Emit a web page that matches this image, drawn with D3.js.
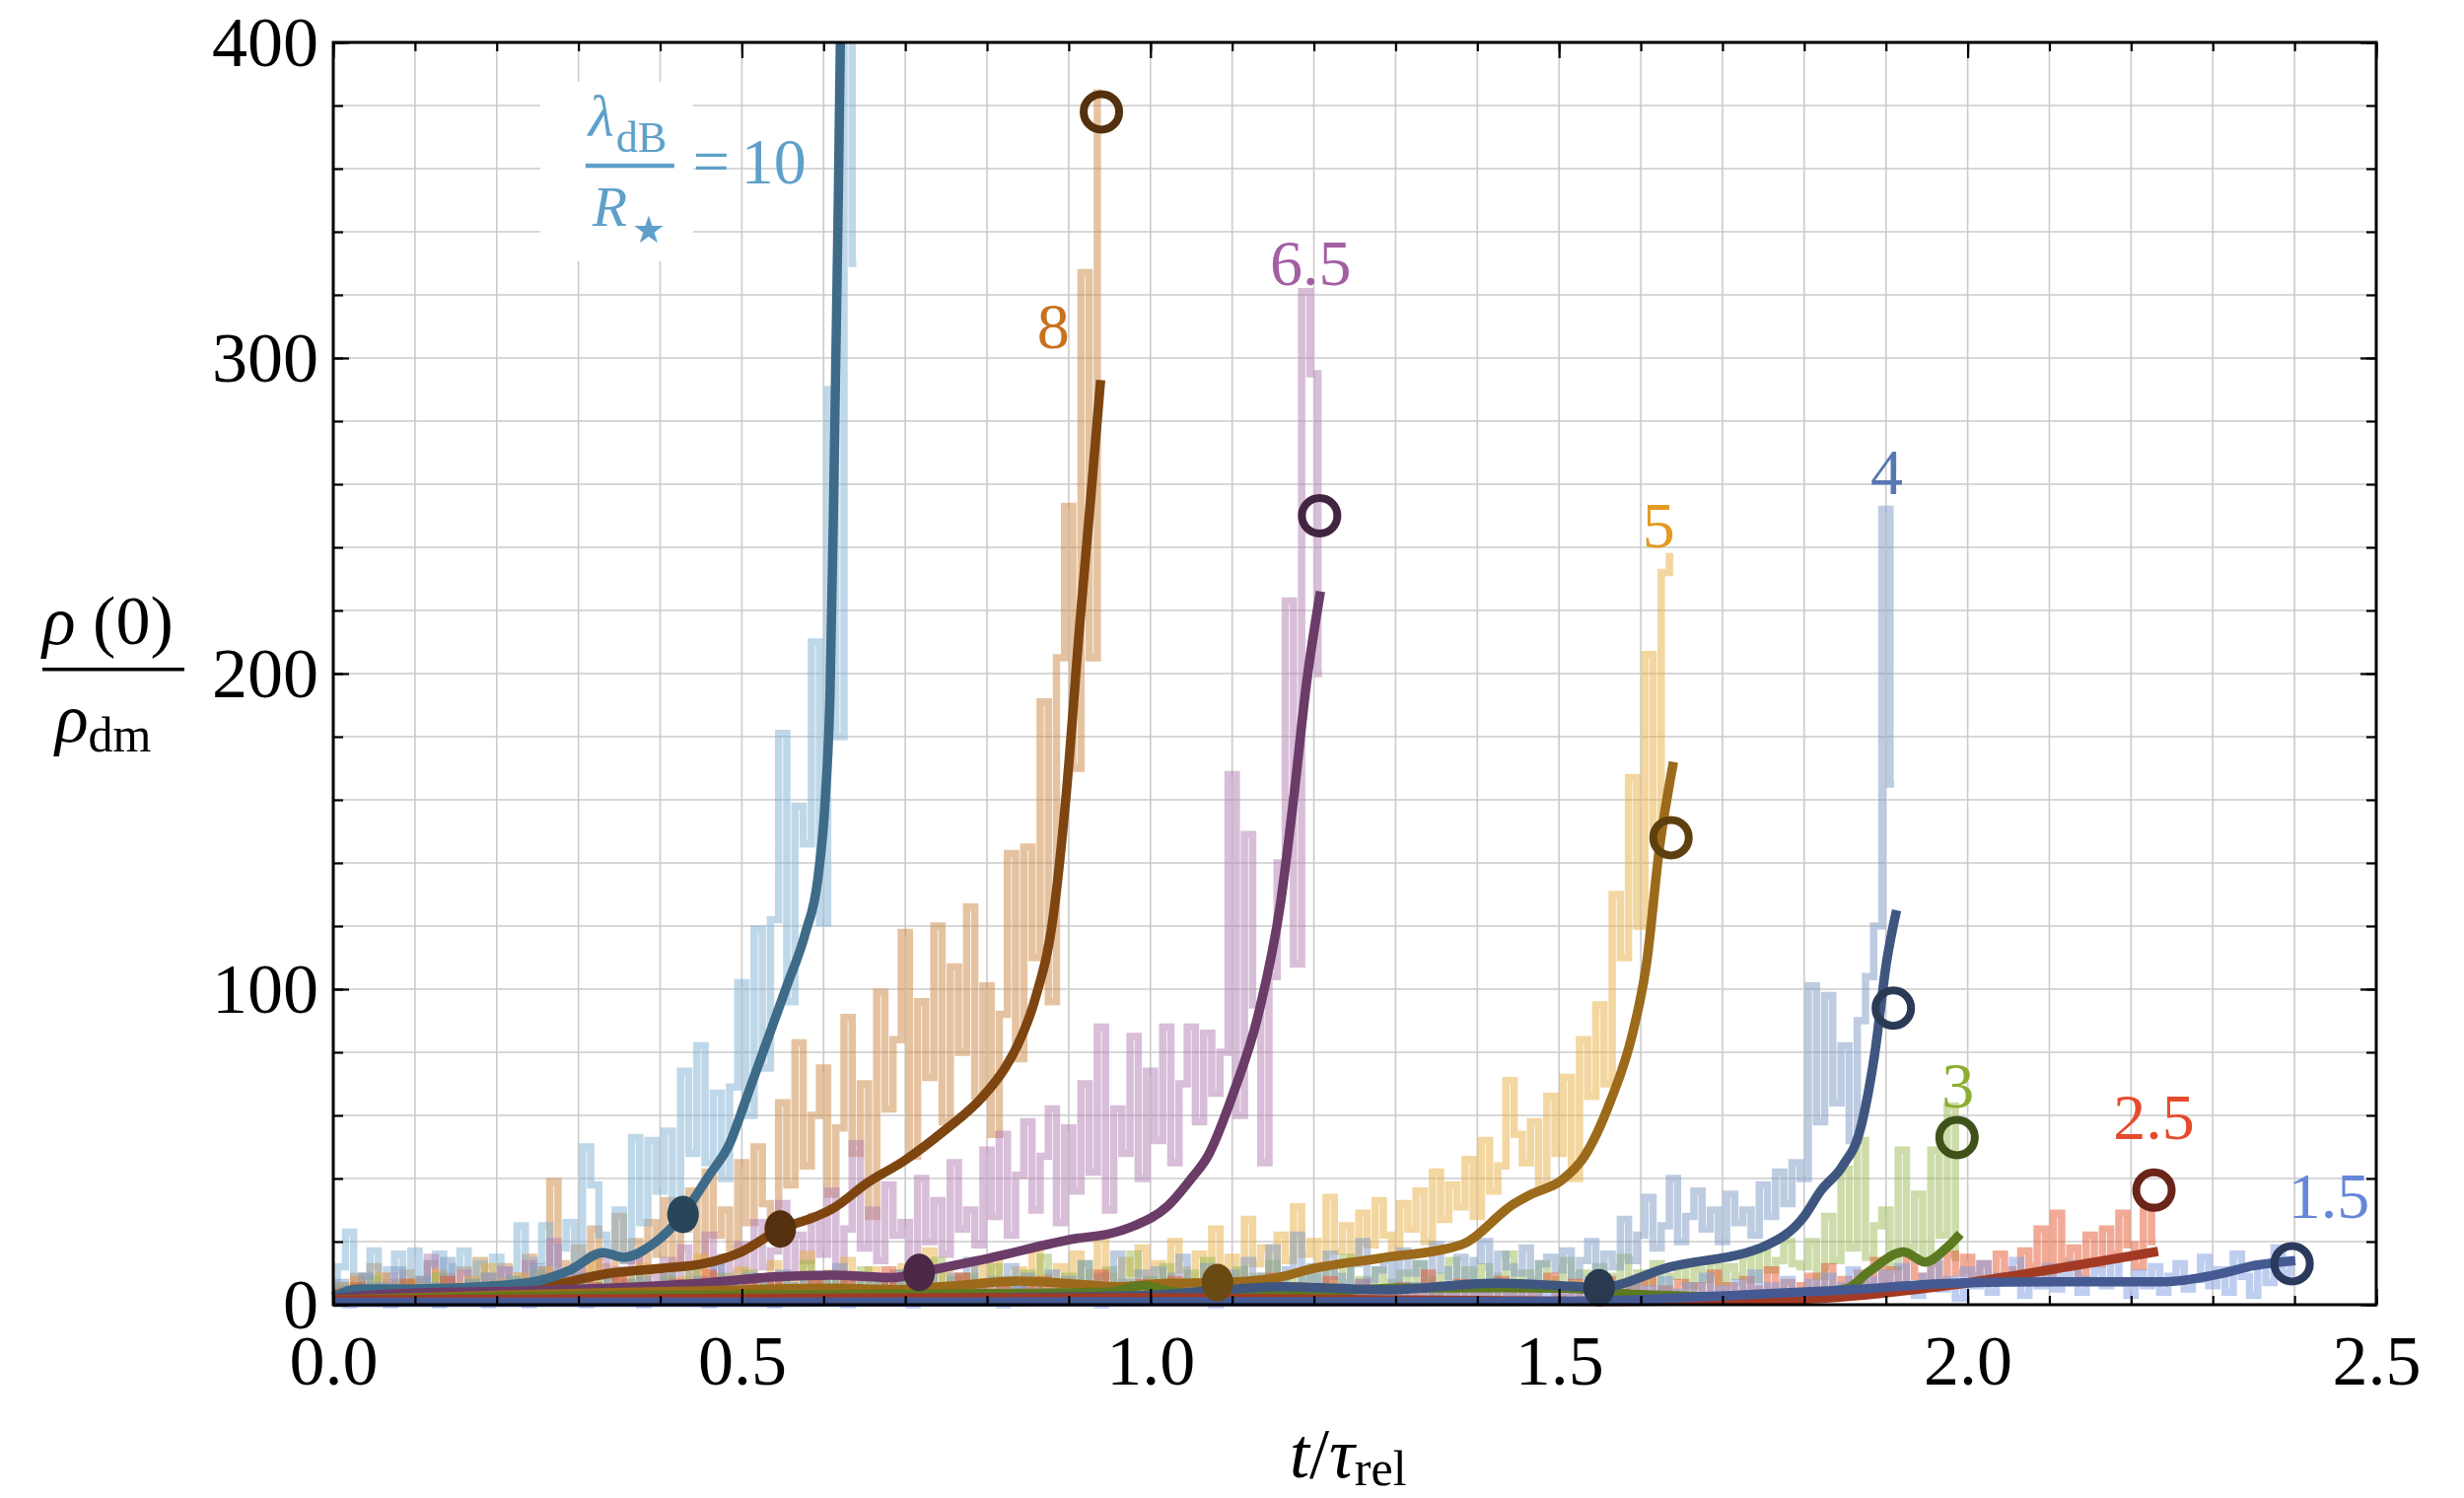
<!DOCTYPE html>
<html lang="en">
<head>
<meta charset="UTF-8">
<title>Central density growth</title>
<style>
  body { margin: 0; background: #fff; }
  svg text { font-family: "Liberation Serif", "Times New Roman", serif; }
</style>
</head>
<body>
<svg id="chart" width="2499" height="1519"></svg>
<script src="https://d3js.org/d3.v7.min.js"></script>
<script>
// ---- data ----
// raw simulation output, one sample every rawStep in t/tau_rel, starting at 0
var rawStep = 0.01;

var raw10 = [4,12,23,6,9,17,5,11,16,4, 17,8,13,16,6,12,17,5,13,9, 15,6,11,25,8,14,25,10,18,26,
  14,50,38,22,18,30,14,53,26,52, 36,55,30,74,48,82,45,67,40,69, 102,60,119,75,122,181,96,158,146,210,
  121,290,180,420,330];

var raw8 = [3,6,4,9,5,12,3,7,5,10, 4,8,13,5,9,6,11,4,14,7, 6,12,5,9,15,7,11,39,13,8,
  18,10,24,12,9,28,14,20,11,26, 16,33,13,24,36,15,42,22,30,18, 45,26,50,32,21,64,38,83,44,60,
  75,35,56,91,48,70,28,99,62,84, 118,47,96,72,120,58,107,80,126,66, 101,54,92,143,78,145,110,191,96,205,
  253,170,327,205,384];

var raw65 = [2,5,3,8,4,6,3,9,5,4, 7,3,15,5,8,4,10,6,3,9, 5,11,4,7,13,6,9,20,5,8,
  12,4,9,15,6,11,7,16,5,10, 8,14,6,18,9,12,22,7,15,10, 19,8,26,12,17,32,10,22,14,28,
  16,36,12,24,51,18,30,14,38,22, 26,12,40,20,33,16,45,24,30,19, 49,28,54,22,41,58,30,47,62,26,
  56,36,70,42,88,30,62,48,85,40, 74,52,88,45,70,88,58,86,67,80, 168,60,149,95,45,104,140,223,108,321,
  295,200];

var raw5 = [3,6,2,8,4,5,9,3,6,4, 7,3,5,10,4,6,3,8,5,12, 4,7,3,9,6,5,11,4,7,3,
  8,5,14,4,6,9,3,7,12,5, 6,10,4,8,5,15,6,9,4,7, 11,5,8,4,13,6,9,5,16,7,
  5,10,6,14,4,8,11,5,9,6, 12,5,8,17,6,10,4,9,7,13, 6,15,8,5,11,7,18,9,6,12,
  8,16,6,10,21,9,7,14,10,18, 9,13,7,20,11,8,16,10,24,12, 15,9,27,13,18,10,22,14,31,16,
  20,12,34,17,25,15,29,19,33,22, 18,32,24,36,20,42,27,38,31,46, 28,52,36,44,71,54,45,58,38,66,
  48,72,40,84,66,95,70,130,110,167, 120,206,150,232,237];

var raw4 = [3,7,2,5,9,3,6,4,11,5, 4,8,3,6,14,5,3,7,4,9, 5,3,8,4,6,12,3,7,5,4,
  9,4,6,3,10,5,7,3,8,4, 6,11,4,7,3,8,5,13,4,6, 3,9,5,7,4,10,6,3,8,5,
  7,4,12,5,8,3,9,6,4,10, 5,8,3,11,6,4,9,5,14,6, 4,8,6,12,5,9,3,7,10,5,
  8,4,13,6,9,5,16,7,4,10, 6,11,5,9,15,7,4,12,8,6, 10,5,14,7,9,18,6,11,22,8,
  12,6,16,9,7,13,20,8,11,14, 7,17,10,13,8,19,11,6,15,9, 14,20,8,16,12,10,18,7,13,15,
  11,17,9,14,20,8,16,12,27,14, 22,34,18,25,40,20,28,36,24,30, 20,35,26,30,22,38,28,42,32,45,
  40,101,58,98,64,82,52,90,104,120, 252,165];

var raw3 = [2,5,3,6,4,8,3,5,2,7, 4,3,6,9,4,5,3,7,5,4, 6,3,8,4,5,10,4,6,3,5,
  7,4,3,9,5,6,4,11,5,3, 6,8,4,5,12,3,7,5,9,4, 5,10,4,7,3,8,6,4,13,5,
  7,4,9,5,3,11,6,8,4,6, 10,5,7,4,14,6,8,5,9,4, 7,12,5,8,4,10,6,15,7,5,
  9,6,13,5,8,11,4,7,16,6, 8,5,12,7,4,10,6,14,5,8, 6,11,4,9,7,13,5,8,10,6,
  9,5,12,7,15,6,8,4,11,7, 6,10,5,13,8,4,9,14,6,11, 7,12,5,9,16,6,10,8,13,5,
  8,14,6,10,5,12,7,9,15,6, 10,7,13,5,9,12,6,11,8,14, 7,12,9,15,8,18,11,14,20,13,
  12,20,9,28,14,43,18,52,15,25, 30,12,49,18,35,14,49,22,63,15];

var raw25 = [2,4,1,6,3,2,5,1,3,7, 2,4,1,3,8,2,5,3,1,4, 3,6,2,4,1,5,3,9,2,4,
  1,3,6,2,4,8,1,3,5,2, 4,1,7,3,2,5,10,2,4,1, 3,6,2,4,9,1,3,5,2,7,
  2,4,1,8,3,5,2,4,11,3, 1,5,3,2,6,4,1,9,3,5, 2,4,7,1,3,5,2,8,4,3,
  6,2,4,1,10,3,5,2,4,7, 3,1,5,8,2,4,3,6,1,4, 7,2,5,3,1,9,4,2,6,3,
  4,1,8,3,5,2,7,4,1,5, 3,6,2,4,10,1,5,3,7,2, 5,3,1,8,4,2,6,3,5,9,
  2,4,7,1,5,3,8,2,4,6, 3,9,2,5,4,7,1,6,3,10, 4,6,2,8,5,3,11,4,7,3,
  6,9,4,12,5,8,3,10,6,14, 7,11,5,15,9,6,13,8,16,10, 15,9,13,7,16,11,8,17,12,24,
  10,29,14,18,9,22,13,24,16,29, 19,12,31,20];

var raw15 = [1,3,0,2,4,1,2,0,3,1, 2,4,1,0,3,2,5,1,2,0, 3,1,2,4,0,2,1,3,5,1,
  2,0,3,1,4,2,1,3,0,2, 4,1,2,5,1,3,0,2,4,1, 2,3,1,4,0,2,5,1,3,2,
  1,4,2,0,3,1,5,2,1,3, 2,0,4,1,3,2,6,1,2,4, 1,3,0,2,5,1,3,2,4,1,
  3,1,2,6,0,3,1,4,2,1, 4,2,1,3,5,1,2,4,0,3, 2,5,1,3,2,6,1,4,2,3,
  1,4,2,5,1,3,7,2,4,1, 3,2,6,1,4,2,5,3,1,6, 2,4,1,7,3,2,5,1,4,3,
  6,2,4,1,8,3,2,5,3,7, 2,5,3,8,1,4,6,2,9,3, 5,2,7,4,10,3,6,2,8,4,
  3,7,2,9,4,6,11,3,8,5, 10,4,12,6,3,9,14,5,8,2, 11,6,13,4,9,7,14,3,10,6,
  12,5,9,13,4,8,11,6,14,7, 3,10,6,12,4,9,13,5,8,15, 6,11,4,16,9,3,13,7,18,10,
  14];

// smoothed curves, [t/tau_rel, rho(0)/rho_dm]
var smooth10 = [[0,2.5],[0.03,5],[0.1,5],[0.2,6],[0.25,7.5],[0.29,11],[0.33,16.5],[0.355,15],
  [0.39,19],[0.428,28.6],[0.46,41],[0.485,51],[0.505,65],[0.53,83],[0.555,101],[0.578,118],
  [0.593,135],[0.602,160],[0.608,195],[0.612,250],[0.615,300],[0.618,350],[0.621,410]];
var smooth8 = [[0,2],[0.1,3],[0.2,4],[0.268,6.2],[0.337,9.9],[0.4,11.5],[0.453,13],[0.499,16.7],
  [0.547,24],[0.591,28],[0.612,30.6],[0.653,38.5],[0.698,45.5],[0.747,55],[0.795,66],[0.822,75],
  [0.837,82],[0.859,97],[0.881,123],[0.897,162],[0.913,214],[0.929,262],[0.939,293]];
var smooth65 = [[0,2],[0.086,3.6],[0.24,4.4],[0.45,6.8],[0.545,8.9],[0.61,9.4],[0.686,8.6],
  [0.717,10.2],[0.8,14.6],[0.91,21],[0.95,22.5],[0.98,25],[1.02,31],[1.05,40],[1.07,47],
  [1.1,66],[1.132,92],[1.159,127],[1.175,160],[1.191,197],[1.208,226]];
var smooth5 = [[0,1.5],[0.2,3],[0.45,4.4],[0.61,5.2],[0.69,4.8],[0.76,6],[0.84,7.5],[0.92,6.3],
  [0.96,5.7],[1.02,6.8],[1.082,7],[1.15,8.3],[1.2,11.5],[1.28,14.7],[1.38,19],[1.445,32],
  [1.466,35],[1.504,39.6],[1.531,47],[1.563,64.6],[1.59,86],[1.607,108],[1.623,145],[1.64,172]];
var smooth4 = [[0,1],[0.5,1.5],[0.9,2.5],[1.0,3],[1.08,4.5],[1.16,5.7],[1.29,4.7],[1.42,6.8],
  [1.525,5.7],[1.549,5.4],[1.635,11.9],[1.751,18.5],[1.8,28],[1.82,36],[1.847,44],[1.868,55],
  [1.886,79],[1.901,109],[1.913,125]];
var smooth3 = [[0,1.5],[0.2,2.5],[0.5,3],[0.8,3.5],[0.95,4],[0.99,6],[1.03,4],[1.1,3.5],[1.2,4],
  [1.3,5.2],[1.42,5.4],[1.51,5.2],[1.59,3.3],[1.77,2.3],[1.853,5.2],[1.879,10.4],[1.922,16.7],
  [1.948,13.5],[1.973,17.7],[1.991,22.4]];
var smooth25 = [[0,1.5],[0.5,2],[1.0,2.2],[1.55,1],[1.77,1.5],[1.87,3],[1.98,6.2],[2.11,11.5],[2.233,16.9]];
var smooth15 = [[0,0.8],[0.5,0.8],[1.0,0.9],[1.4,1],[1.55,1.2],[1.68,2.6],[1.853,4.7],[1.982,6.8],
  [2.112,7.3],[2.241,7.3],[2.302,9.4],[2.353,12.5],[2.401,14]];

// markers
var dotPoints = [[0.428,28.6],[0.547,24],[0.717,10.2],[1.082,7],[1.549,5.4]];
var ringPoints = [[0.94,378],[1.207,250],[1.637,148],[1.909,94],[1.987,53],[2.228,36.3],[2.397,13]];

// curve labels (centre x, baseline y, in data units)
var labelText = ["8","6.5","5","4","3","2.5","1.5"];
var labelX = [0.881,1.196,1.622,1.901,1.988,2.228,2.442];
var labelY = [303,323,240,257,62.5,52.5,27.5];

var xTickLabels = ["0.0","0.5","1.0","1.5","2.0","2.5"];
var yTickLabels = ["0","100","200","300","400"];

// ---- styling per series ----
var series = [
  {raw: raw8,  smooth: smooth8,  rawColor: "#cd8741", lineColor: "#7e4511"},
  {raw: raw10, smooth: smooth10, rawColor: "#7fb2d4", lineColor: "#3e6b88"},
  {raw: raw65, smooth: smooth65, rawColor: "#b17db1", lineColor: "#6b3c68"},
  {raw: raw5,  smooth: smooth5,  rawColor: "#e7ad41", lineColor: "#9b6a1a"},
  {raw: raw3,  smooth: smooth3,  rawColor: "#9bb955", lineColor: "#5c7a20"},
  {raw: raw4,  smooth: smooth4,  rawColor: "#7d99c5", lineColor: "#3f5780"},
  {raw: raw25, smooth: smooth25, rawColor: "#e5552d", lineColor: "#a33a24"},
  {raw: raw15, smooth: smooth15, rawColor: "#7d9be1", lineColor: "#455a92"}
];
var dotColors = ["#284559","#55300e","#4a2846","#6b4912","#29394f"];
var ringColors = ["#55300e","#422540","#5e400f","#2b3a55","#3f5219","#6a2419","#2b3a5c"];
var labelColors = ["#c8711f","#a35fa3","#e39a22","#5878b2","#8cae2e","#e64b2e","#6586d9"];

var svg = d3.select("#chart");
var x = d3.scaleLinear().domain([0, 2.5]).range([338, 2410]);
var y = d3.scaleLinear().domain([0, 400]).range([1323, 43]);

svg.append("defs").append("clipPath").attr("id", "plotclip")
  .append("rect").attr("x", 320).attr("y", 43).attr("width", 2110).attr("height", 1300);

// grid
var grid = svg.append("g").attr("stroke", "#cbcbcb").attr("stroke-width", 1.6);
grid.selectAll(".gx").data(x.ticks(25)).enter().append("line")
  .attr("x1", d => x(d)).attr("x2", d => x(d)).attr("y1", y(400)).attr("y2", y(0));
grid.selectAll(".gy").data(y.ticks(20)).enter().append("line")
  .attr("y1", d => y(d)).attr("y2", d => y(d)).attr("x1", x(0)).attr("x2", x(2.5));

// white box behind the lambda label
svg.append("rect").attr("x", 548).attr("y", 83).attr("width", 155).attr("height", 182).attr("fill", "#fff");

var plot = svg.append("g").attr("clip-path", "url(#plotclip)");

var rawLine = d3.line()
  .x((d, i) => x(i * rawStep))
  .y(d => y(d))
  .curve(d3.curveStep);

var smoothLine = d3.line()
  .x(d => x(d[0]))
  .y(d => y(d[1]))
  .curve(d3.curveMonotoneX);

series.forEach(function(s) {
  plot.append("path").attr("d", rawLine(s.raw))
    .attr("fill", "none").attr("stroke", s.rawColor)
    .attr("stroke-opacity", 0.5).attr("stroke-width", 7.5)
    .attr("stroke-linejoin", "miter");
});
series.forEach(function(s) {
  plot.append("path").attr("d", smoothLine(s.smooth))
    .attr("fill", "none").attr("stroke", s.lineColor)
    .attr("stroke-width", 9.5).attr("stroke-linejoin", "round");
});

// filled markers
plot.selectAll(".dot").data(dotPoints).enter().append("ellipse")
  .attr("cx", d => x(d[0])).attr("cy", d => y(d[1]))
  .attr("rx", 16).attr("ry", 19)
  .attr("fill", (d, i) => dotColors[i]);

// open markers
plot.selectAll(".ring").data(ringPoints).enter().append("circle")
  .attr("cx", d => x(d[0])).attr("cy", d => y(d[1]))
  .attr("r", 18).attr("fill", "none").attr("stroke-width", 8)
  .attr("stroke", (d, i) => ringColors[i]);

// curve labels
svg.selectAll(".clabel").data(labelText).enter().append("text")
  .attr("x", (d, i) => x(labelX[i])).attr("y", (d, i) => y(labelY[i]))
  .attr("text-anchor", "middle").attr("font-size", 66)
  .attr("fill", (d, i) => labelColors[i])
  .text(d => d);

// lambda_dB / R_star = 10 label
var lab = svg.append("g").attr("transform", "translate(" + x(0.363) + "," + y(361) + ")")
  .attr("fill", "#5ea0c9");
lab.append("rect").attr("x", -45).attr("y", -2).attr("width", 90).attr("height", 4.5);
lab.append("text").attr("x", -42).attr("y", -30).attr("font-size", 60).attr("font-style", "italic").text("λ");
lab.append("text").attr("x", -14).attr("y", -14).attr("font-size", 44).text("dB");
lab.append("text").attr("x", -38).attr("y", 61).attr("font-size", 58).attr("font-style", "italic").text("R");
lab.append("text").attr("x", 2).attr("y", 78).attr("font-size", 38)
  .style("font-family", "'DejaVu Sans', sans-serif").text("★");
lab.append("text").attr("x", 64).attr("y", 18).attr("font-size", 66).text("=");
lab.append("text").attr("x", 113).attr("y", 18).attr("font-size", 66).text("10");

// axes: ticks on all four sides, pointing inward
function styleAxis(g) {
  g.select(".domain").remove();
  g.selectAll(".tick line").attr("stroke", "#000").attr("stroke-width", 2.2);
  g.selectAll(".tick text").attr("font-family", "'Liberation Serif', serif")
    .attr("font-size", 72).attr("fill", "#000");
}
svg.append("g").attr("transform", "translate(0," + y(0) + ")")
  .call(d3.axisBottom(x).tickValues(x.ticks(25)).tickSize(-9).tickFormat("")).call(styleAxis);
svg.append("g").attr("transform", "translate(0," + y(0) + ")")
  .call(d3.axisBottom(x).ticks(5).tickSize(-16).tickPadding(30)
    .tickFormat((d, i) => xTickLabels[i])).call(styleAxis);
svg.append("g").attr("transform", "translate(0," + y(400) + ")")
  .call(d3.axisTop(x).tickValues(x.ticks(25)).tickSize(-9).tickFormat("")).call(styleAxis);
svg.append("g").attr("transform", "translate(0," + y(400) + ")")
  .call(d3.axisTop(x).ticks(5).tickSize(-16).tickFormat("")).call(styleAxis);
svg.append("g").attr("transform", "translate(" + x(0) + ",0)")
  .call(d3.axisLeft(y).tickValues(y.ticks(20)).tickSize(-10).tickFormat("")).call(styleAxis);
svg.append("g").attr("transform", "translate(" + x(0) + ",0)")
  .call(d3.axisLeft(y).ticks(4).tickSize(-16).tickPadding(15)
    .tickFormat((d, i) => yTickLabels[i])).call(styleAxis);
svg.append("g").attr("transform", "translate(" + x(2.5) + ",0)")
  .call(d3.axisRight(y).tickValues(y.ticks(20)).tickSize(-10).tickFormat("")).call(styleAxis);
svg.append("g").attr("transform", "translate(" + x(2.5) + ",0)")
  .call(d3.axisRight(y).ticks(4).tickSize(-16).tickFormat("")).call(styleAxis);

svg.append("rect").attr("x", x(0)).attr("y", y(400))
  .attr("width", x(2.5) - x(0)).attr("height", y(0) - y(400))
  .attr("fill", "none").attr("stroke", "#000").attr("stroke-width", 3);

// axis titles
var xt = svg.append("text").attr("x", 1308).attr("y", 1498).attr("font-size", 72);
xt.append("tspan").attr("font-style", "italic").text("t");
xt.append("tspan").text("/");
xt.append("tspan").attr("font-style", "italic").text("τ");
xt.append("tspan").attr("font-size", 50).attr("dy", 8).text("rel");

var yt = svg.append("text").attr("x", 43).attr("y", 653).attr("font-size", 70);
yt.append("tspan").attr("font-style", "italic").text("ρ");
yt.append("tspan").text(" (0)");
svg.append("rect").attr("x", 43).attr("y", 677).attr("width", 144).attr("height", 3.5).attr("fill", "#000");
var yb = svg.append("text").attr("x", 56).attr("y", 752).attr("font-size", 70);
yb.append("tspan").attr("font-style", "italic").text("ρ");
yb.append("tspan").attr("font-size", 50).attr("dy", 10).text("dm");
</script>
</body>
</html>
